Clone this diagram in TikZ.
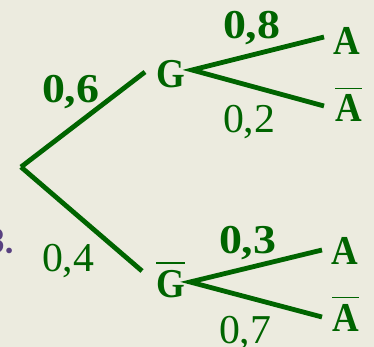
\documentclass[tikz,border=0pt]{standalone}
\usepackage{fontspec}
\newfontfamily\bfletter[FakeStretch=0.9]{Liberation Serif Bold}
\newfontfamily\bfdigit[FakeStretch=1.12]{Liberation Serif Bold}
\newfontfamily\regdigit[FakeStretch=1.02]{Liberation Serif}
\newfontfamily\numsans{Carlito Bold}
\definecolor{bgc}{RGB}{236,235,223}
\definecolor{tgreen}{RGB}{0,100,0}
\definecolor{tpurple}{RGB}{88,64,128}
\newcommand\obar[1]{\vbox{\hrule height 1.4pt\kern 6pt\hbox{#1}}}
\tikzset{
  branch/.style={draw=tgreen, line width=4.8pt, line cap=butt, line join=miter},
  evt/.style={inner sep=0pt, outer sep=0pt, anchor=base west, text=tgreen, font=\fontsize{41}{44}\bfletter},
  pbold/.style={inner sep=0pt, outer sep=0pt, anchor=base west, text=tgreen, font=\fontsize{41}{44}\bfdigit},
  pnorm/.style={inner sep=0pt, outer sep=0pt, anchor=base west, text=tgreen, font=\fontsize{41}{44}\regdigit},
}
\begin{document}
\begin{tikzpicture}[x=1pt,y=-1pt]
\useasboundingbox (0,0) rectangle (374,347);
\fill[bgc] (0,0) rectangle (374,347);
% coordinates
\coordinate (root) at (21,167);
\coordinate (gEnd) at (145,72);
\coordinate (gbEnd) at (142,271);
\coordinate (fU) at (192,70);
\coordinate (fUa) at (324,37);
\coordinate (fUb) at (324,106);
\coordinate (fL) at (190,282);
\coordinate (fLa) at (322,250);
\coordinate (fLb) at (322,317);
% branches
\draw[branch] (root) -- (gEnd);
\draw[branch] (root) -- (gbEnd);
\draw[branch] (fUa) -- (fU) -- (fUb);
\draw[branch] (fLa) -- (fL) -- (fLb);
% event labels
\node[evt] (G) at (156,88) {G};
\node[evt] (Gb) at (156,297) {\obar{G}};
\node[evt] (A1) at (333,55) {A};
\node[evt] (A1b) at (335,122) {\obar{A}};
\node[evt] (A2) at (331,264) {A};
\node[evt] (A2b) at (332,331) {\obar{A}};
% probabilities
\node[pbold] (p06) at (42,103) {0,6};
\node[pnorm] (p04) at (42,271) {0,4};
\node[pbold] (p08) at (223,39) {0,8};
\node[pnorm] (p02) at (223,133) {0,2};
\node[pbold] (p03) at (219,253) {0,3};
\node[pnorm] (p07) at (219,343) {0,7};
% cut-off item number
\node[inner sep=0pt, anchor=base east, text=tpurple, font=\fontsize{38}{40}\numsans] (num) at (15,253) {3.};
\end{tikzpicture}
\end{document}
